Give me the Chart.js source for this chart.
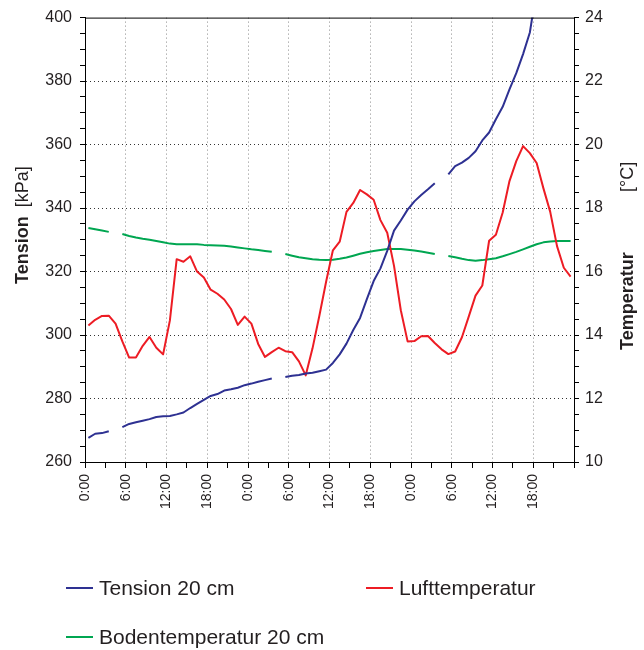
<!DOCTYPE html>
<html>
<head>
<meta charset="utf-8">
<script src="https://cdn.jsdelivr.net/npm/chart.js@4.4.0/dist/chart.umd.min.js"></script>
<style>
  html, body { margin: 0; padding: 0; background: #ffffff; }
  #wrap { position: relative; width: 644px; height: 650px; }
  #legend { position: absolute; left: 0; top: 0; width: 644px; height: 650px; pointer-events: none;
            font-family: "Liberation Sans", Arial, sans-serif; font-size: 21px; color: #231f20; }
  .item { position: absolute; display: flex; align-items: center; white-space: nowrap; height: 24px; }
  .swatch { width: 27px; height: 2px; margin-right: 6px; }
</style>
</head>
<body>
<div id="wrap">
  <canvas id="c" width="644" height="650" style="width:644px;height:650px"></canvas>
  <div id="legend"></div>
</div>
<script>
// Hourly means, sampled at the middle of each hour (hours since the first midnight)
const sampleHours = [
  0.5, 1.5, 2.5, 3.5, 4.5, 5.5, 6.5, 7.5, 8.5, 9.5, 10.5, 11.5,
  12.5, 13.5, 14.5, 15.5, 16.5, 17.5, 18.5, 19.5, 20.5, 21.5, 22.5, 23.5,
  24.5, 25.5, 26.5, 27.5, 28.5, 29.5, 30.5, 31.5, 32.5, 33.5, 34.5, 35.5,
  36.5, 37.5, 38.5, 39.5, 40.5, 41.5, 42.5, 43.5, 44.5, 45.5, 46.5, 47.5,
  48.5, 49.5, 50.5, 51.5, 52.5, 53.5, 54.5, 55.5, 56.5, 57.5, 58.5, 59.5,
  60.5, 61.5, 62.5, 63.5, 64.5, 65.5, 66.5, 67.5, 68.5, 69.5, 70.5, 71.5
];

// Soil water tension at 20 cm depth [kPa]
const tension20 = [
  267.6, 268.9, 269.1, 269.7, null, 271.0, 272.0, 272.5, 273.0, 273.5, 274.2, 274.4,
  274.5, 275.0, 275.6, 277.0, 278.3, 279.6, 280.8, 281.4, 282.5, 282.9, 283.4, 284.2,
  284.7, 285.3, 285.8, 286.3, null, 286.8, 287.2, 287.4, 287.9, 288.1, 288.6, 289.1,
  291.2, 293.9, 297.3, 301.6, 305.4, 311.3, 317.0, 321.0, 326.5, 332.9, 336.1, 339.5,
  342.1, 344.1, 345.9, 347.8, null, 350.6, 353.2, 354.3, 355.8, 357.9, 361.3, 363.8,
  368.0, 371.9, 377.4, 382.5, 388.5, 395.3, 409.0, null, null, null, null, null
];

// Air temperature [°C]
const airTemp = [
  14.30, 14.48, 14.60, 14.61, 14.36, 13.80, 13.29, 13.29, 13.66, 13.94, 13.60, 13.39,
  14.46, 16.39, 16.31, 16.48, 16.00, 15.81, 15.43, 15.30, 15.12, 14.82, 14.32, 14.58,
  14.36, 13.72, 13.31, 13.46, 13.60, 13.49, 13.46, 13.17, 12.73, 13.58, 14.60, 15.68,
  16.67, 16.94, 17.88, 18.16, 18.57, 18.43, 18.26, 17.62, 17.22, 16.18, 14.78, 13.80,
  13.81, 13.96, 13.97, 13.75, 13.55, 13.40, 13.48, 13.93, 14.58, 15.24, 15.56, 16.97,
  17.16, 17.86, 18.85, 19.48, 19.95, 19.73, 19.42, 18.62, 17.88, 16.80, 16.12, 15.84
];

// Soil temperature at 20 cm depth [°C]
const soilTemp20 = [
  17.37, 17.33, 17.29, 17.25, null, 17.18, 17.12, 17.07, 17.03, 17.00, 16.96, 16.92,
  16.88, 16.86, 16.86, 16.86, 16.86, 16.84, 16.83, 16.82, 16.81, 16.79, 16.76, 16.73,
  16.70, 16.68, 16.65, 16.62, null, 16.55, 16.50, 16.45, 16.42, 16.39, 16.37, 16.36,
  16.37, 16.40, 16.44, 16.50, 16.56, 16.61, 16.65, 16.68, 16.71, 16.71, 16.71, 16.69,
  16.66, 16.63, 16.59, 16.55, null, 16.49, 16.45, 16.40, 16.36, 16.34, 16.36, 16.39,
  16.42, 16.48, 16.55, 16.62, 16.70, 16.78, 16.86, 16.92, 16.95, 16.96, 16.96, 16.96
];

const timeTickLabels = ['0:00', '6:00', '12:00', '18:00'];
const seriesNames = ['Tension 20 cm', 'Lufttemperatur', 'Bodentemperatur 20 cm'];
const leftTitle = ['Tension', '[kPa]'];
const rightTitle = ['Temperatur', '[°C]'];

const TEXT = '#231f20';
const FONT = '"Liberation Sans", Arial, Helvetica, sans-serif';
const COLORS = { tension: '#2e3192', air: '#ed1c24', soil: '#00a651' };

const toPoints = (vals) => vals.map((v, i) => ({ x: sampleHours[i], y: v }));

// One rotated text piece, read bottom-to-top, starting at (x, yStart)
function drawUpText(ctx, text, x, yStart, bold) {
  ctx.save();
  ctx.translate(x, yStart);
  ctx.rotate(-Math.PI / 2);
  ctx.fillStyle = TEXT;
  ctx.textBaseline = 'middle';
  ctx.textAlign = 'left';
  ctx.font = (bold ? 'bold ' : '') + '18px ' + FONT;
  ctx.fillText(text, 0, 0);
  const w = ctx.measureText(text).width;
  ctx.restore();
  return w;
}

const framePlugin = {
  id: 'frameAndTitles',
  afterDraw(chart) {
    const { ctx, chartArea } = chart;
    ctx.save();
    ctx.strokeStyle = '#000';
    ctx.lineWidth = 1;
    ctx.beginPath();
    ctx.moveTo(chartArea.left, chartArea.top + 0.5);
    ctx.lineTo(chartArea.right, chartArea.top + 0.5);
    ctx.stroke();
    ctx.restore();
    // left: name and unit separated by two spaces
    const w = drawUpText(ctx, leftTitle[0], 23, 284, true);
    drawUpText(ctx, leftTitle[1], 23, 284 - w - 9, false);
    // right: name low, unit higher up
    drawUpText(ctx, rightTitle[0], 628, 350, true);
    drawUpText(ctx, rightTitle[1], 628, 192, false);
  }
};

const chart = new Chart(document.getElementById('c'), {
  type: 'line',
  data: {
    datasets: [
      { label: seriesNames[0], data: toPoints(tension20), yAxisID: 'y',
        borderColor: COLORS.tension, backgroundColor: COLORS.tension },
      { label: seriesNames[1], data: toPoints(airTemp), yAxisID: 'yT',
        borderColor: COLORS.air, backgroundColor: COLORS.air },
      { label: seriesNames[2], data: toPoints(soilTemp20), yAxisID: 'yT',
        borderColor: COLORS.soil, backgroundColor: COLORS.soil }
    ]
  },
  options: {
    responsive: false,
    animation: false,
    spanGaps: false,
    layout: { padding: { top: 16, left: 0, right: 0, bottom: 0 } },
    elements: {
      line: { borderWidth: 2, tension: 0, borderCapStyle: 'butt', borderJoinStyle: 'round' },
      point: { radius: 0, hoverRadius: 0 }
    },
    plugins: { legend: { display: false }, tooltip: { enabled: false } },
    scales: {
      x: {
        type: 'linear', min: 0, max: 72,
        afterFit: (s) => { s.height = 188; },
        afterBuildTicks: (s) => {
          const t = [];
          for (let v = 0; v <= 72; v += 3) t.push({ value: v });
          s.ticks = t;
        },
        ticks: {
          autoSkip: false, maxRotation: 90, minRotation: 90, padding: 6,
          color: TEXT, font: { family: FONT, size: 14 },
          callback: (v) => (v % 6 === 0 && v < 72) ? timeTickLabels[(v / 6) % 4] : ''
        },
        grid: {
          drawTicks: true, tickLength: 6, tickColor: '#000', lineWidth: 1,
          color: (c) => {
            const v = c.tick ? c.tick.value : 0;
            return (v % 6 === 0 && v > 0 && v < 72) ? '#8a8a8a' : 'rgba(0,0,0,0)';
          }
        },
        border: { display: true, color: '#000', width: 1, dash: [1, 3] }
      },
      y: {
        type: 'linear', position: 'left', min: 260, max: 400,
        afterFit: (s) => { s.width = 85; },
        afterBuildTicks: (s) => {
          const t = [];
          for (let v = 260; v <= 400; v += 5) t.push({ value: v });
          s.ticks = t;
        },
        ticks: {
          autoSkip: false, padding: 8, color: TEXT, font: { family: FONT, size: 16 },
          callback: (v) => (v % 20 === 0) ? String(v) : ''
        },
        grid: {
          drawTicks: true, tickLength: 5, tickColor: '#000', lineWidth: 1,
          color: (c) => {
            const v = c.tick ? c.tick.value : 0;
            return (v % 20 === 0 && v > 260 && v < 400) ? '#333333' : 'rgba(0,0,0,0)';
          }
        },
        border: { display: true, color: '#000', width: 1, dash: [1, 3] }
      },
      yT: {
        type: 'linear', position: 'right', min: 10, max: 24,
        afterFit: (s) => { s.width = 70; },
        afterBuildTicks: (s) => {
          const t = [];
          for (let v = 10; v <= 24; v += 0.5) t.push({ value: v });
          s.ticks = t;
        },
        ticks: {
          autoSkip: false, padding: 6, color: TEXT, font: { family: FONT, size: 16 },
          callback: (v) => (v % 2 === 0) ? String(v) : ''
        },
        grid: { drawOnChartArea: false, drawTicks: true, tickLength: 5, tickColor: '#000' },
        border: { display: true, color: '#000', width: 1 }
      }
    }
  },
  plugins: [framePlugin]
});

// Legend built from the chart's datasets
const legendPositions = [
  { left: 66, top: 576 },
  { left: 366, top: 576 },
  { left: 66, top: 625 }
];
const legendEl = document.getElementById('legend');
chart.data.datasets.forEach((ds, i) => {
  const item = document.createElement('div');
  item.className = 'item';
  item.style.left = legendPositions[i].left + 'px';
  item.style.top = legendPositions[i].top + 'px';
  const sw = document.createElement('span');
  sw.className = 'swatch';
  sw.style.background = ds.borderColor;
  const tx = document.createElement('span');
  tx.textContent = ds.label;
  item.appendChild(sw);
  item.appendChild(tx);
  legendEl.appendChild(item);
});
</script>
</body>
</html>
